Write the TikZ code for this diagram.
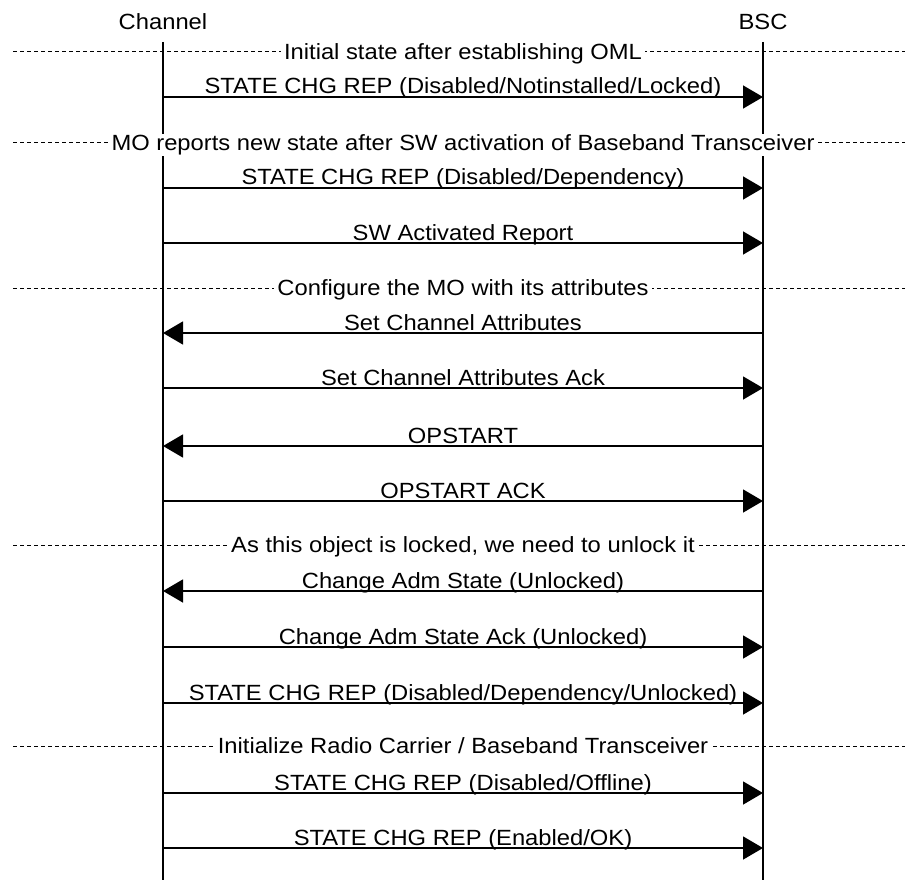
\documentclass[tikz,border=0pt]{standalone}
\usepackage{fontspec}
\setmainfont{Liberation Sans}[FakeStretch=1.08]
\usetikzlibrary{arrows.meta}
\tikzset{
	life/.style={line width=1.6pt},
	msg/.style={line width=1.5pt, -{Triangle[length=20pt,width=23pt]}},
	msglabel/.style={anchor=base, yshift=3pt, inner sep=0pt},
	sepline/.style={line width=1pt, dash pattern=on 4pt off 3pt},
	seplabel/.style={anchor=base, yshift=-7.8pt, fill=white, inner xsep=3pt, inner ysep=1pt},
}
\begin{document}
\begin{tikzpicture}[x=1pt, y=-1pt, font=\fontsize{22}{26}\selectfont]
		\useasboundingbox (0,0) rectangle (905,880);
		% entities
		\node (chan) at (163,22) {Channel};
		\node (bsc)  at (763,22) {BSC};
		\coordinate (chantop) at (163,42);
		\coordinate (chanend) at (163,880);
		\coordinate (bsctop)  at (763,42);
		\coordinate (bscend)  at (763,880);
		\draw[life] (chantop) -- (chanend);
		\draw[life] (bsctop) -- (bscend);
		
		% message rows
		\foreach \n/\y in {1/97, 2/188, 3/243, 4/333, 5/388, 6/446, 7/501,
			8/591, 9/647, 10/703, 11/793, 12/848}{
			\coordinate (c\n) at (163,\y);
			\coordinate (b\n) at (763,\y);
		}
		% separator rows
		\foreach \n/\y in {1/52, 2/143, 3/288, 4/545, 5/746}{
			\coordinate (sl\n) at (13,\y);
			\coordinate (sr\n) at (905,\y);
			\coordinate (sm\n) at (463,\y);
		}
		
		\draw[sepline] (sl1) -- (sr1);
		\node[seplabel] (sep1) at (sm1) {Initial state after establishing OML};
		\draw[msg] (c1) -- node[msglabel] (m1) {STATE CHG REP (Disabled/Notinstalled/Locked)} (b1);
		
		\draw[sepline] (sl2) -- (sr2);
		\node[seplabel] (sep2) at (sm2) {MO reports new state after SW activation of Baseband Transceiver};
		\draw[msg] (c2) -- node[msglabel] (m2) {STATE CHG REP (Disabled/Dependency)} (b2);
		\draw[msg] (c3) -- node[msglabel] (m3) {SW Activated Report} (b3);
		
		\draw[sepline] (sl3) -- (sr3);
		\node[seplabel] (sep3) at (sm3) {Configure the MO with its attributes};
		\draw[msg] (b4) -- node[msglabel] (m4) {Set Channel Attributes} (c4);
		\draw[msg] (c5) -- node[msglabel] (m5) {Set Channel Attributes Ack} (b5);
		\draw[msg] (b6) -- node[msglabel] (m6) {OPSTART} (c6);
		\draw[msg] (c7) -- node[msglabel] (m7) {OPSTART ACK} (b7);
		
		\draw[sepline] (sl4) -- (sr4);
		\node[seplabel] (sep4) at (sm4) {As this object is locked, we need to unlock it};
		\draw[msg] (b8) -- node[msglabel] (m8) {Change Adm State (Unlocked)} (c8);
		\draw[msg] (c9) -- node[msglabel] (m9) {Change Adm State Ack (Unlocked)} (b9);
		\draw[msg] (c10) -- node[msglabel] (m10) {STATE CHG REP (Disabled/Dependency/Unlocked)} (b10);
		
		\draw[sepline] (sl5) -- (sr5);
		\node[seplabel] (sep5) at (sm5) {Initialize Radio Carrier / Baseband Transceiver};
		\draw[msg] (c11) -- node[msglabel] (m11) {STATE CHG REP (Disabled/Offline)} (b11);
		\draw[msg] (c12) -- node[msglabel] (m12) {STATE CHG REP (Enabled/OK)} (b12);
\end{tikzpicture}
\end{document}
